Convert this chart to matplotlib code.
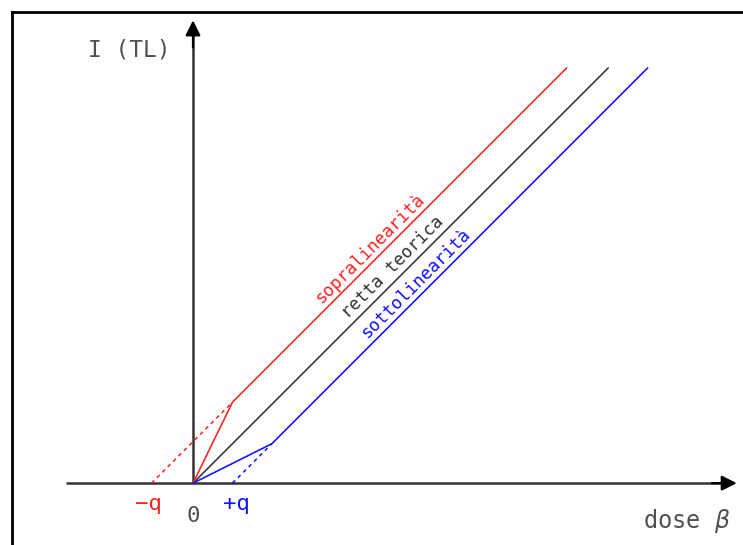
import matplotlib
matplotlib.use("Agg")
import matplotlib.pyplot as plt
from matplotlib.lines import Line2D

# ---- data (arbitrary dose / intensity units) ----
theory_x = [0.0, 10.0]
theory_y = [0.0, 10.0]

supra_x = [0.0, 0.95, 9.0]
supra_y = [0.0, 1.95, 10.0]
supra_ext_x = [-1.0, 0.95]
supra_ext_y = [0.0, 1.95]

sotto_x = [0.0, 1.9, 10.95]
sotto_y = [0.0, 0.95, 10.0]
sotto_ext_x = [0.95, 1.9]
sotto_ext_y = [0.0, 0.95]

q_labels = ["\u2212q", "0", "+q"]
q_positions = [-1.08, 0.0, 1.05]

W, H = 743, 545
fig = plt.figure(figsize=(W / 100, H / 100), dpi=100)
ax = fig.add_axes([0, 0, 1, 1])
ax.set_xlim(-4.65, 13.25)
ax.set_ylim(-1.49, 11.64)
ax.axis("off")

mono = "DejaVu Sans Mono"
red = "#ff2020"
blue = "#1010ff"
dark = "#333333"
gray = "#505050"

# frame (only top and left edges visible)
fig.add_artist(Line2D([12 / W, 12 / W], [0, 1 - 12 / H], color="black", lw=2.0))
fig.add_artist(Line2D([12 / W, 1], [1 - 12 / H, 1 - 12 / H], color="black", lw=2.0))

# axes with arrows
arrow_style = "-|>,head_length=0.9,head_width=0.45"
ax.annotate("", xy=(13.1, 0), xytext=(12.5, 0),
            arrowprops=dict(arrowstyle=arrow_style, color="black", lw=1.6,
                            shrinkA=0, shrinkB=0))
ax.annotate("", xy=(0, 11.15), xytext=(0, 10.5),
            arrowprops=dict(arrowstyle=arrow_style, color="black", lw=1.6,
                            shrinkA=0, shrinkB=0))
ax.plot([-3.05, 12.8], [0, 0], color=dark, lw=1.8, solid_capstyle="butt")
ax.plot([0, 0], [0, 10.9], color=dark, lw=1.8, solid_capstyle="butt")

# lines
ax.plot(theory_x, theory_y, color=dark, lw=1.15)
ax.plot(supra_x, supra_y, color=red, lw=1.15)
ax.plot(supra_ext_x, supra_ext_y, color=red, lw=1.1, linestyle=(0, (2.5, 2.5)))
ax.plot(sotto_x, sotto_y, color=blue, lw=1.15)
ax.plot(sotto_ext_x, sotto_ext_y, color=blue, lw=1.1, linestyle=(0, (2.5, 2.5)))

# rotated labels
label_kw = dict(fontsize=12.5, family=mono, rotation=45, rotation_mode="anchor",
                ha="center", va="center")
ax.text(4.25, 5.65, "sopralinearità", color=red, **label_kw)
ax.text(4.80, 5.20, "retta teorica", color=dark, **label_kw)
ax.text(5.37, 4.82, "sottolinearità", color=blue, **label_kw)

# q labels
q_colors = [red, gray, blue]
q_y = [-0.65, -0.94, -0.65]
for lab, xp, c, yy in zip(q_labels, q_positions, q_colors, q_y):
    ax.text(xp, yy, lab, color=c, fontsize=16, family=mono,
            ha="center", va="baseline")

# axis titles
ax.text(-1.54, 10.27, "I (TL)", color=gray, fontsize=16.5, family=mono,
        ha="center", va="baseline")
ax.text(11.9, -1.08, "dose $\\beta$", color=gray, fontsize=17, family=mono,
        ha="center", va="baseline")

fig.savefig("out.png", dpi=100)
